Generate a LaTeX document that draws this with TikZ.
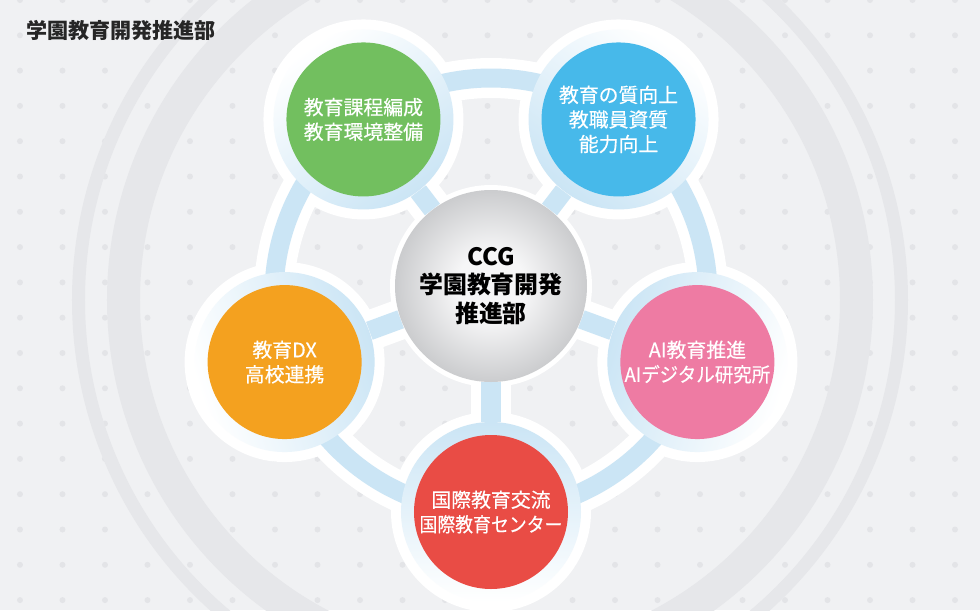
\documentclass[tikz,border=0pt]{standalone}
\usepackage{fontspec}
\setmainfont{Noto Sans CJK JP}
\newfontfamily\petalfont{Noto Sans CJK JP}[FakeBold=0.35]

\definecolor{bggray}{HTML}{F0F1F3}
\definecolor{dotgray}{HTML}{E3E4E7}
\definecolor{ringgray}{HTML}{E6E7EA}
\definecolor{bandblue}{HTML}{CBE5F5}
\definecolor{kgreen}{HTML}{72BF5F}
\definecolor{kblue}{HTML}{47B9EA}
\definecolor{korange}{HTML}{F4A11F}
\definecolor{kpink}{HTML}{EE7BA3}
\definecolor{kred}{HTML}{E94C45}
\definecolor{hubin}{HTML}{F6F6F7}
\definecolor{hubout}{HTML}{CBCCCE}

\pgfdeclareradialshading{hubshade}{\pgfpoint{0bp}{0bp}}{color(0bp)=(hubin); color(9bp)=(hubin); color(25bp)=(hubout); color(50bp)=(hubout)}

\pgfdeclarelayer{back}
\pgfdeclarelayer{edgewhite}
\pgfdeclarelayer{edgeblue}
\pgfsetlayers{back,edgewhite,edgeblue,main}

\tikzset{
  petal/.style 2 args={circle, minimum size=3.6cm, inner sep=0pt, align=center,
    text=white, font=\petalfont\fontsize{11.3}{14}\selectfont,
    top color=white, bottom color=bandblue, shading angle=#2,
    path picture={\fill[#1] (path picture bounding box.center) circle (1.54);}},
  hubdisc/.style={circle, minimum size=3.84cm, inner sep=0pt, align=center,
    shading=hubshade, font=\bfseries\fontsize{13.6}{16.4}\selectfont},
  whiteband/.style={white, line width=0.8cm},
  blueband/.style={bandblue, line width=0.38cm},
}

\begin{document}
\begin{tikzpicture}
    \useasboundingbox (-9.82,-6.3) rectangle (9.78,5.9);

    % centre and the five fields
    \node[hubdisc] (hub) at (0,0.18) {CCG\\学園教育開発\\推進部};
    \node[petal={kgreen}{36}] (kyoka) at (126:4.34) {教育課程編成\\教育環境整備};
    \node[petal={kblue}{-36}] (shitsu) at (54:4.34) {教育の質向上\\教職員資質\\能力向上};
    \node[petal={kpink}{-108}] (ai) at (-18:4.34) {AI教育推進\\\scalebox{0.93}[1]{AIデジタル研究所}};
    \node[petal={kred}{-180}] (kokusai) at (-90:4.34) {国際教育交流\\\scalebox{0.9}[1]{国際教育センター}};
    \node[petal={korange}{108}] (dx) at (198:4.34) {教育DX\\高校連携};

    \node[anchor=west, text=black!85, font=\bfseries\fontsize{12}{14}\selectfont] (title) at (-9.42,5.3) {学園教育開発推進部};

    % background
    \begin{pgfonlayer}{back}
        \fill[bggray] (-9.82,-6.3) rectangle (9.78,5.9);
        \foreach \i in {0,...,22}
            \foreach \j in {0,...,17}
                \fill[dotgray] (-9.42+0.85*\i, 5.9-0.706*\j) circle (0.06);
        \draw[ringgray, line width=0.66cm] (-0.02,-0.1) circle (7.33);
        \draw[ringgray, line width=0.26cm] (-0.02,-0.1) circle (8.23);
    \end{pgfonlayer}

    % links
    \begin{pgfonlayer}{edgewhite}
        \fill[white] (hub.center) circle (2.02);
        \foreach \n/\ang in {ai/-18, shitsu/54, kyoka/126, dx/198, kokusai/270} {
            \fill[white] (\n.center) circle (2.0);
            \draw[whiteband] (\n.center) arc[start angle=\ang, delta angle=72, radius=4.34];
            \draw[whiteband] (hub) -- (\n);
        }
    \end{pgfonlayer}
    \begin{pgfonlayer}{edgeblue}
        \foreach \n/\ang in {ai/-18, shitsu/54, kyoka/126, dx/198, kokusai/270} {
            \draw[blueband] (\n.center) arc[start angle=\ang, delta angle=72, radius=4.34];
            \draw[blueband] (hub) -- (\n);
        }
    \end{pgfonlayer}
\end{tikzpicture}
\end{document}
